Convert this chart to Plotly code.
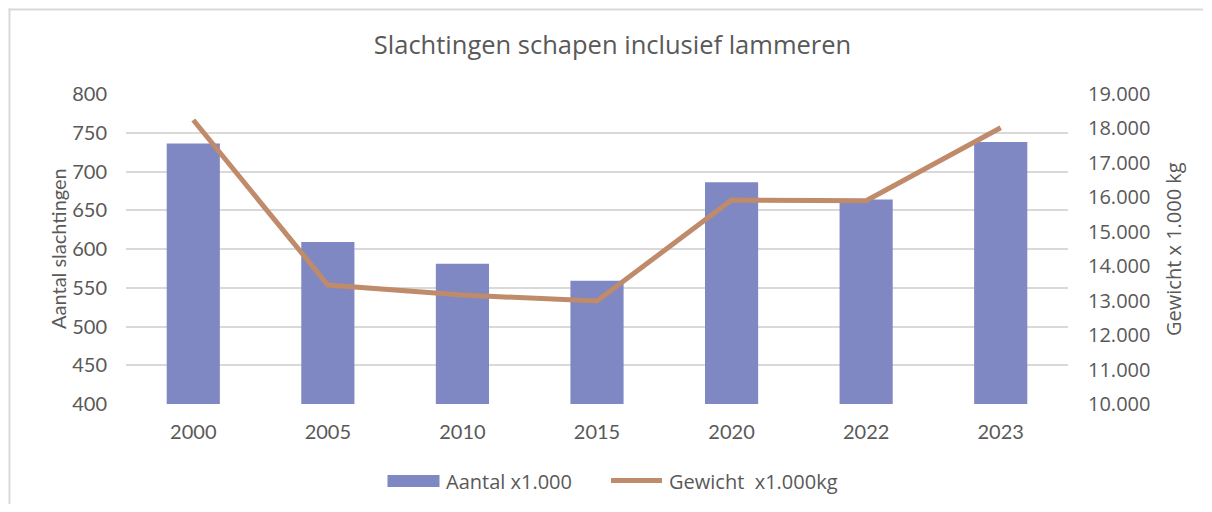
import plotly.graph_objects as go

years = ["2000", "2005", "2010", "2015", "2020", "2022", "2023"]
aantal = [736, 609, 581, 559, 686, 664, 738]
gewicht = [18245, 13454, 13164, 12990, 15922, 15900, 18021]

left_ticks = [400, 450, 500, 550, 600, 650, 700, 750, 800]
right_ticks = [10000, 11000, 12000, 13000, 14000, 15000, 16000, 17000, 18000, 19000]

bar_label = "Aantal x1.000"
line_label = "Gewicht\u00a0 x1.000kg"

BAR_COLOR = "#7F88C2"
LINE_COLOR = "#BF8B6B"
TEXT = "#595959"
GRID = "#D9D9D9"

OFF = 8  # page body margin
W, H = 1212 - 2 * OFF, 512 - 2 * OFF
# plot area in page coordinates: x 126..1068, y 94..404
L, T = 126 - OFF, 94 - OFF
R = W - (1068 - OFF)
B = H - (404 - OFF)
PW, PH = W - L - R, H - T - B


def px(x):
    return (x - OFF - L) / PW


def py(y):
    return (H - B - (y - OFF)) / PH


fig = go.Figure()
fig.add_trace(go.Bar(
    x=years, y=aantal, name=bar_label,
    marker=dict(color=BAR_COLOR, line=dict(width=0)),
    yaxis="y", showlegend=False,
))
fig.add_trace(go.Scatter(
    x=years, y=gewicht, name=line_label,
    mode="lines", line=dict(color=LINE_COLOR, width=5),
    yaxis="y2", showlegend=False,
))

fig.update_layout(
    width=W, height=H,
    margin=dict(l=L, r=R, t=T, b=B),
    paper_bgcolor="white", plot_bgcolor="white",
    separators=",.",
    bargap=0.605,
    font=dict(family="Lato", size=20, color=TEXT),
    title=dict(
        text="Slachtingen schapen inclusief lammeren",
        x=px(612.5), xref="paper", xanchor="center",
        y=1 - (45 - OFF) / H, yanchor="middle",
        font=dict(family="Open Sans", size=25.5, color=TEXT),
    ),
    xaxis=dict(
        type="category", showgrid=False, showline=False, zeroline=False,
        ticks="", ticklabelstandoff=14,
        tickfont=dict(family="Lato", size=20, color=TEXT),
    ),
    yaxis=dict(
        range=[400, 800], tickvals=left_ticks, showgrid=True, gridcolor=GRID,
        gridwidth=1.6, zeroline=False, showline=False, ticks="",
        ticklabelstandoff=18,
        tickfont=dict(family="Lato", size=20, color=TEXT),
    ),
    yaxis2=dict(
        range=[10000, 19000], tickvals=right_ticks, tickformat=",d",
        overlaying="y", side="right", showgrid=False, zeroline=False,
        showline=False, ticks="", ticklabelstandoff=19,
        tickfont=dict(family="Open Sans", size=20, color=TEXT),
    ),
    showlegend=False,
)

# axis titles
fig.add_annotation(
    text="Aantal slachtingen", xref="paper", yref="paper",
    x=px(58), y=py(249), textangle=-90, showarrow=False,
    xanchor="center", yanchor="middle",
    font=dict(family="Lato", size=20, color=TEXT),
)
fig.add_annotation(
    text="Gewicht x 1.000 kg", xref="paper", yref="paper",
    x=px(1173), y=py(249), textangle=-90, showarrow=False,
    xanchor="center", yanchor="middle",
    font=dict(family="Open Sans", size=20, color=TEXT),
)

# legend
fig.add_shape(
    type="rect", xref="paper", yref="paper",
    x0=px(387.5), x1=px(439.5), y0=py(487), y1=py(475),
    line=dict(width=0), fillcolor=BAR_COLOR,
)
fig.add_annotation(
    text=bar_label, xref="paper", yref="paper",
    x=px(444), y=py(481), xanchor="left", yanchor="middle", showarrow=False,
    font=dict(family="Open Sans", size=20, color=TEXT),
)
fig.add_shape(
    type="line", xref="paper", yref="paper",
    x0=px(611), x1=px(662), y0=py(480.5), y1=py(480.5),
    line=dict(color=LINE_COLOR, width=5),
)
fig.add_annotation(
    text=line_label, xref="paper", yref="paper",
    x=px(667), y=py(481), xanchor="left", yanchor="middle", showarrow=False,
    font=dict(family="Open Sans", size=20, color=TEXT),
)

# chart border (top and left edges only, the rest runs off the picture)
fig.add_shape(
    type="line", xref="paper", yref="paper",
    x0=px(8.5), x1=px(1203), y0=py(9.5), y1=py(9.5),
    line=dict(color="#D9D9D9", width=2), layer="below",
)
fig.add_shape(
    type="line", xref="paper", yref="paper",
    x0=px(9.5), x1=px(9.5), y0=py(8.5), y1=py(504),
    line=dict(color="#D9D9D9", width=2), layer="below",
)

fig.write_html("out.html")
